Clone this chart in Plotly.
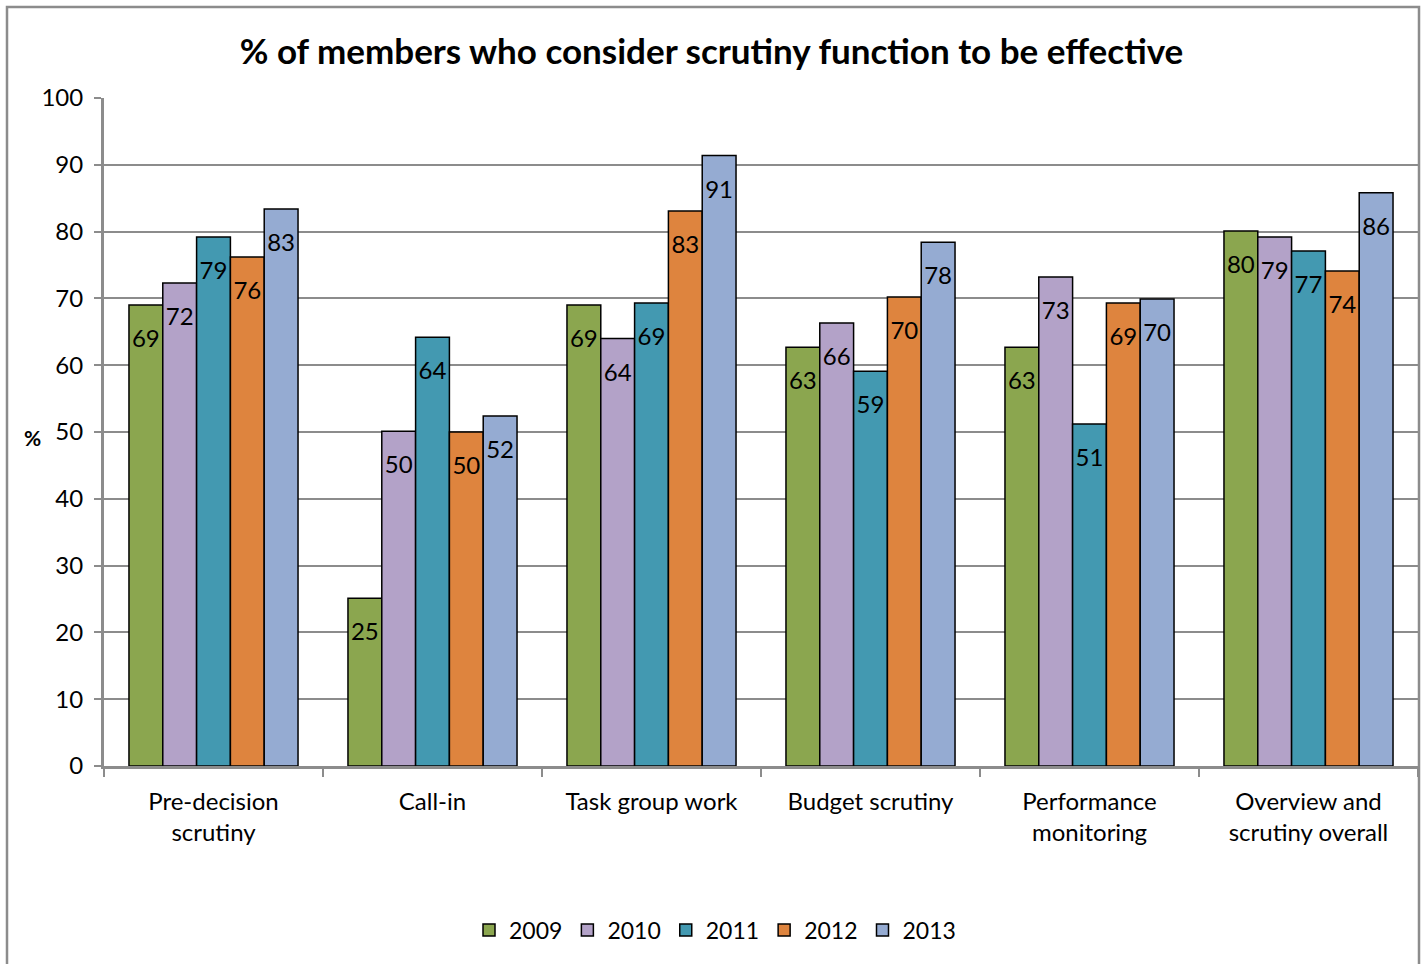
import plotly.graph_objects as go

categories = ["Pre-decision<br>scrutiny", "Call-in", "Task group work", "Budget scrutiny",
              "Performance<br>monitoring", "Overview and<br>scrutiny overall"]
years = ["2009", "2010", "2011", "2012", "2013"]
values_2009 = [69.0, 25.1, 69.0, 62.7, 62.7, 80.1]
values_2010 = [72.3, 50.1, 64.0, 66.3, 73.2, 79.2]
values_2011 = [79.2, 64.2, 69.3, 59.1, 51.2, 77.1]
values_2012 = [76.2, 50.0, 83.1, 70.2, 69.3, 74.1]
values_2013 = [83.4, 52.4, 91.4, 78.4, 69.9, 85.8]
series = [values_2009, values_2010, values_2011, values_2012, values_2013]
colors = ["#8BA64F", "#B3A2C8", "#4399B1", "#DE843E", "#95ABD2"]

FONT = "Lato"
W, H = 1423, 964
ML, MR, MT, MB = 104, 5, 98, 198
PW, PH = W - ML - MR, H - MT - MB
GAP = 0.228

fig = go.Figure()
for yr, vals, col in zip(years, series, colors):
    fig.add_trace(go.Bar(
        name=yr, x=categories, y=vals, offsetgroup=yr,
        marker=dict(color=col, line=dict(color="#000000", width=1.5)),
        hoverinfo="x+y+name",
    ))
for yr, vals in zip(years, series):
    fig.add_trace(go.Scatter(
        x=categories, y=vals, offsetgroup=yr, mode="markers+text",
        text=[f"{v:.0f}" for v in vals], textposition="bottom center",
        textfont=dict(family=FONT, size=24, color="#000000"),
        marker=dict(size=37, opacity=0), showlegend=False, hoverinfo="skip",
        cliponaxis=False,
    ))

def px_x(px):
    return (px - ML) / PW

def px_y(py):
    return 1 - (py - MT) / PH

fig.update_layout(
    width=W, height=H,
    margin=dict(l=ML, r=MR, t=MT, b=MB),
    paper_bgcolor="white", plot_bgcolor="white",
    barmode="group", bargap=GAP, bargroupgap=0,
    scattermode="group", scattergap=GAP,
    font=dict(family=FONT, color="#000000"),
    title=dict(text="<b>% of members who consider scrutiny function to be effective</b>",
               x=0.5, xanchor="center", y=1 - 52 / H, yanchor="middle",
               font=dict(family=FONT, size=35, color="#000000")),
    legend=dict(orientation="h", x=px_x(715), xanchor="center", y=px_y(930), yanchor="middle",
                font=dict(family=FONT, size=23, color="#000000"),
                itemwidth=30, traceorder="normal"),
    yaxis=dict(range=[0, 100], dtick=10, showgrid=True, gridcolor="#8C8C8C", gridwidth=2,
               showline=True, linecolor="#8C8C8C", linewidth=3,
               ticks="outside", ticklen=7, tickcolor="#8C8C8C", tickwidth=2,
               ticklabelstandoff=6,
               tickfont=dict(family=FONT, size=24, color="#000000"), zeroline=False),
    xaxis=dict(showline=True, linecolor="#8C8C8C", linewidth=3,
               ticks="outside", tickson="boundaries", ticklen=8, tickcolor="#8C8C8C", tickwidth=2,
               ticklabelstandoff=12,
               tickfont=dict(family=FONT, size=24, color="#000000")),
    annotations=[dict(text="<b>%</b>", xref="paper", yref="paper", x=px_x(32), y=px_y(437),
                      xanchor="center", yanchor="middle", showarrow=False,
                      font=dict(family=FONT, size=21, color="#000000"))],
    shapes=[dict(type="rect", xref="paper", yref="paper",
                 x0=px_x(7), x1=px_x(1419), y0=px_y(975), y1=px_y(7),
                 line=dict(color="#8C8C8C", width=2.5), layer="below")],
)

fig.write_html("out.html")
